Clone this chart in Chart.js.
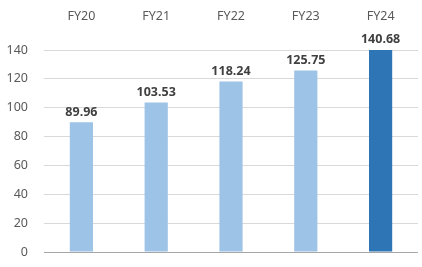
<!DOCTYPE html>
<html>
<head>
<meta charset="utf-8">
<script src="https://cdn.jsdelivr.net/npm/chart.js@4"></script>
<style>
  html, body { margin: 0; padding: 0; background: #fff; }
  #wrap { width: 422px; height: 267px; position: relative; }
</style>
</head>
<body>
<div id="wrap"><canvas id="chart"></canvas></div>
<script>
// --- Data ---
const years = ['FY20', 'FY21', 'FY22', 'FY23', 'FY24'];
const values = [89.96, 103.53, 118.24, 125.75, 140.68];
const yTicks = [0, 20, 40, 60, 80, 100, 120, 140];

const barColors = values.map((v, i) => i === values.length - 1 ? '#2E75B6' : '#9DC3E6');

// Draw value labels above each bar
const valueLabels = {
    id: 'valueLabels',
    afterDatasetsDraw(chart) {
        const ctx = chart.ctx;
        const meta = chart.getDatasetMeta(0);
        ctx.save();
        ctx.font = 'bold 12.5px "Noto Sans"';
        ctx.fillStyle = '#404040';
        ctx.textAlign = 'center';
        ctx.textBaseline = 'bottom';
        meta.data.forEach((bar, i) => {
            const top = Math.max(bar.y, chart.chartArea.top);
            ctx.fillText(values[i].toFixed(2), bar.x, top - 4);
        });
        ctx.restore();
    }
};

const ctx = document.getElementById('chart').getContext('2d');
new Chart(ctx, {
    type: 'bar',
    data: {
        labels: years,
        datasets: [{
            data: values,
            backgroundColor: barColors,
            barPercentage: 0.31,
            categoryPercentage: 1
        }]
    },
    options: {
        responsive: true,
        maintainAspectRatio: false,
        animation: false,
        layout: { padding: { left: 0, right: 4, top: 0, bottom: 15 } },
        plugins: { legend: { display: false }, tooltip: { enabled: false } },
        scales: {
            x: {
                position: 'top',
                grid: { display: false },
                border: { display: false },
                ticks: {
                    color: '#595959',
                    font: { family: '"Noto Sans"', size: 12.5 },
                    padding: 18
                },
                afterFit(scale) { scale.height = 50; }
            },
            y: {
                min: 0,
                max: 140,
                afterBuildTicks(scale) { scale.ticks = yTicks.map(v => ({ value: v })); },
                grid: {
                    color: c => c.tick && c.tick.value === 0 ? '#A6A6A6' : '#D9D9D9',
                    drawTicks: false
                },
                border: { display: false },
                ticks: {
                    color: '#595959',
                    font: { family: '"Noto Sans"', size: 12.5 },
                    padding: 16
                },
                afterFit(scale) {
                    scale.width = 44;
                    scale.paddingTop = 0;
                    scale.paddingBottom = 0;
                }
            }
        }
    },
    plugins: [valueLabels]
});
</script>
</body>
</html>
